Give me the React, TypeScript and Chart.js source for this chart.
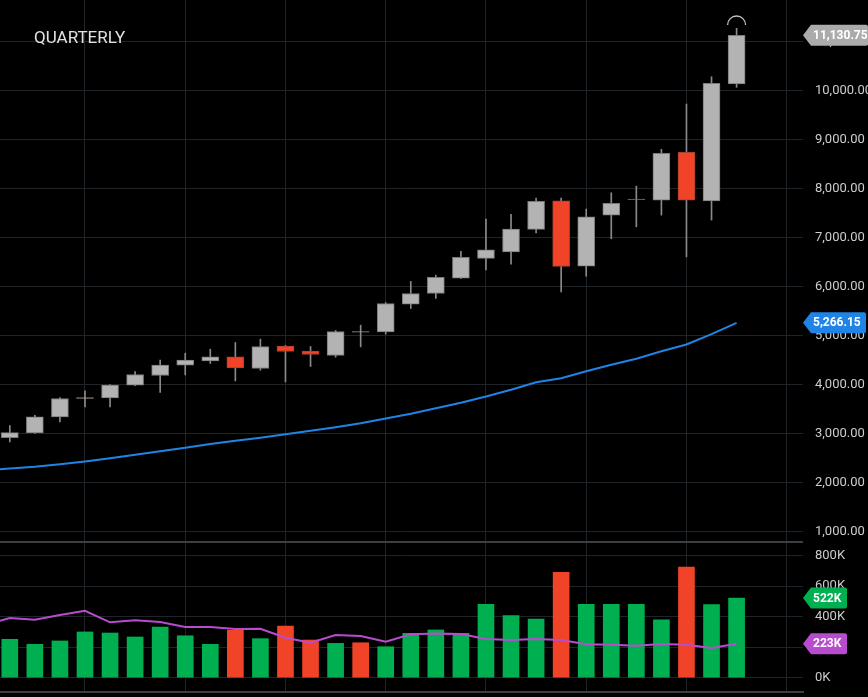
import React, { useEffect, useRef } from "react";
import { Chart, registerables } from "chart.js";

Chart.register(...registerables);

// ---------------- data ----------------
const quarters = [
  "2011 Q2", "2011 Q3", "2011 Q4", "2012 Q1", "2012 Q2", "2012 Q3", "2012 Q4", "2013 Q1",
  "2013 Q2", "2013 Q3", "2013 Q4", "2014 Q1", "2014 Q2", "2014 Q3", "2014 Q4", "2015 Q1",
  "2015 Q2", "2015 Q3", "2015 Q4", "2016 Q1", "2016 Q2", "2016 Q3", "2016 Q4", "2017 Q1",
  "2017 Q2", "2017 Q3", "2017 Q4", "2018 Q1", "2018 Q2", "2018 Q3",
];
const opens = [
  2926, 3020, 3347, 3722, 3735, 3994, 4192, 4402, 4490, 4571,
  4335, 4790, 4688, 4600, 5078, 5082, 5647, 5865, 6178, 6580,
  6714, 7171, 7755, 6420, 7463, 7790, 7770, 8743, 7751, 10137,
];
const highs = [
  3171, 3381, 3740, 3877, 4005, 4273, 4504, 4647, 4729, 4865,
  4933, 4805, 4784, 5110, 5218, 5680, 6110, 6240, 6723, 7382,
  7478, 7810, 7810, 7586, 7918, 8055, 8804, 9729, 10286, 11273,
];
const lows = [
  2837, 3010, 3245, 3551, 3551, 3985, 3845, 4204, 4437, 4082,
  4300, 4061, 4375, 4565, 4776, 5035, 5559, 5763, 6170, 6347,
  6463, 7102, 5898, 6216, 6980, 7224, 7463, 6612, 7361, 10069,
];
const closes = [
  3028, 3347, 3722, 3740, 3994, 4212, 4402, 4504, 4571, 4347,
  4784, 4682, 4620, 5090, 5086, 5661, 5865, 6192, 6600, 6755,
  7178, 7743, 6416, 7429, 7702, 7778, 8722, 7770, 10151, 11130.75,
];
// moving average, first value belongs to the quarter before the first candle
const priceMA = [
  2258, 2294, 2330, 2381, 2437, 2504, 2575, 2647, 2718, 2794, 2861,
  2922, 2994, 3065, 3137, 3218, 3314, 3412, 3524, 3637, 3763,
  3902, 4055, 4137, 4280, 4412, 4535, 4688, 4824, 5035, 5266.15,
];
// volume in thousands
const volumes = [
  252, 219, 241, 300, 293, 267, 332, 275, 219, 311,
  256, 339, 247, 225, 229, 203, 291, 313, 291, 481,
  407, 385, 691, 481, 481, 481, 380, 726, 479, 522,
];
const volumeMA = [
  346, 391, 380, 411, 439, 363, 376, 365, 332, 332, 319,
  321, 262, 229, 280, 273, 236, 285, 289, 287, 254,
  247, 254, 247, 219, 216, 210, 221, 216, 195, 223,
];
const priceTicks = [1000, 2000, 3000, 4000, 5000, 6000, 7000, 8000, 9000, 10000, 11000];
const volumeTicks = [0, 200, 400, 600, 800];
const yearStartIndex = [3, 7, 11, 15, 19, 23, 27, 31];
const titleText = "QUARTERLY";

// ---------------- styles ----------------
const W = 868;
const PRICE_H = 541;
const VOL_H = 156;
const AXIS_W = 65;
const X_MIN = -0.391;
const X_MAX = 31.65;
const P_MIN = 816.4;
const P_MAX = 11850.5;
const V_MIN = -93.8;
const V_MAX = 896.4;

const BG = "#000000";
const GRID = "#1f2428";
const SEP = "#3a3f44";
const LABEL = "#cccccc";
const UP_FILL = "#b3b3b3";
const UP_BORDER = "#7a7a7a";
const DOWN_FILL = "#f04328";
const DOWN_BORDER = "#a8402e";
const WICK = "#8a8a8a";
const GREEN = "#00b050";
const RED = "#f04328";
const BLUE = "#1f84e6";
const MAGENTA = "#b84ccf";
const TAG_GREY = "#ababab";
const FONT = "Roboto, 'Noto Sans', sans-serif";

const fmtPrice = (v: number) =>
  v.toLocaleString("en-US", { minimumFractionDigits: 2, maximumFractionDigits: 2 });

function drawTag(ctx: CanvasRenderingContext2D, y: number, text: string, bg: string, right: number) {
  const left = 803;
  const tip = 8;
  const h = 21;
  ctx.save();
  ctx.beginPath();
  ctx.moveTo(left, y);
  ctx.lineTo(left + tip, y - h / 2);
  ctx.lineTo(right - 2, y - h / 2);
  ctx.quadraticCurveTo(right, y - h / 2, right, y - h / 2 + 2);
  ctx.lineTo(right, y + h / 2 - 2);
  ctx.quadraticCurveTo(right, y + h / 2, right - 2, y + h / 2);
  ctx.lineTo(left + tip, y + h / 2);
  ctx.closePath();
  ctx.fillStyle = bg;
  ctx.fill();
  ctx.fillStyle = "#ffffff";
  ctx.font = `bold 12px ${FONT}`;
  ctx.textBaseline = "middle";
  ctx.textAlign = "left";
  ctx.fillText(text, 813, y + 0.5);
  ctx.restore();
}

const zeroPad = (s: any) => {
  s.paddingTop = 0;
  s.paddingBottom = 0;
  s.paddingLeft = 0;
  s.paddingRight = 0;
};

export default function App() {
  const priceRef = useRef<HTMLCanvasElement | null>(null);
  const volRef = useRef<HTMLCanvasElement | null>(null);

  useEffect(() => {
    document.body.style.margin = "0";
    document.body.style.background = BG;
    const last = closes.length - 1;

    const xScaleBase = (hideHeight: number, border: boolean) => ({
      type: "linear" as const,
      min: X_MIN,
      max: X_MAX,
      offset: false,
      afterBuildTicks: (s: any) => {
        s.ticks = yearStartIndex.map((v) => ({ value: v }));
      },
      afterFit: (s: any) => {
        s.height = hideHeight;
        zeroPad(s);
      },
      grid: { color: GRID, drawTicks: false, lineWidth: 1, offset: false },
      border: border ? { display: true, color: SEP, width: 2 } : { display: false },
      ticks: { display: false, padding: 0 },
    });

    const yScaleBase = (min: number, max: number, ticks: number[], fmt: (v: number) => string) => ({
      type: "linear" as const,
      position: "right" as const,
      min,
      max,
      afterBuildTicks: (s: any) => {
        s.ticks = ticks.map((v) => ({ value: v }));
      },
      afterFit: (s: any) => {
        s.width = AXIS_W;
        zeroPad(s);
      },
      grid: { color: GRID, drawTicks: true, tickLength: 12, tickColor: "rgba(0,0,0,0)" },
      border: { display: false },
      ticks: {
        color: LABEL,
        font: { family: FONT, size: 13 },
        padding: 0,
        callback: (v: any) => fmt(Number(v)),
      },
    });

    const pricePlugin = {
      id: "priceExtras",
      beforeDraw(chart: any) {
        const c = chart.ctx;
        c.save();
        c.fillStyle = BG;
        c.fillRect(0, 0, chart.width, chart.height);
        c.restore();
      },
      afterDraw(chart: any) {
        const ctx = chart.ctx as CanvasRenderingContext2D;
        const xs = chart.scales.x;
        const ys = chart.scales.y;
        // marker arc above last candle
        const mx = xs.getPixelForValue(last);
        const my = ys.getPixelForValue(highs[last]) - 3.3;
        ctx.save();
        ctx.beginPath();
        ctx.arc(mx, my, 9, Math.PI, 2 * Math.PI);
        ctx.strokeStyle = "#c4c4c4";
        ctx.lineWidth = 1.3;
        ctx.stroke();
        ctx.restore();
        drawTag(ctx, ys.getPixelForValue(closes[last]), fmtPrice(closes[last]), TAG_GREY, 868);
        const ma = priceMA[priceMA.length - 1];
        drawTag(ctx, ys.getPixelForValue(ma), fmtPrice(ma), BLUE, 866);
      },
    };

    const priceChart = new Chart(priceRef.current as HTMLCanvasElement, {
      type: "bar",
      data: {
        datasets: [
          {
            type: "line",
            data: priceMA.map((v, i) => ({ x: i - 1, y: v })),
            borderColor: BLUE,
            borderWidth: 2,
            pointRadius: 0,
            tension: 0,
            order: 0,
          } as any,
          {
            type: "bar",
            data: quarters.map((_, i) => ({
              x: i,
              y: [Math.min(opens[i], closes[i]), Math.max(opens[i], closes[i])],
            })),
            backgroundColor: quarters.map((_, i) => (closes[i] >= opens[i] ? UP_FILL : DOWN_FILL)),
            borderColor: quarters.map((_, i) => (closes[i] >= opens[i] ? UP_BORDER : DOWN_BORDER)),
            borderWidth: 1,
            borderSkipped: false,
            barThickness: 17,
            grouped: false,
            order: 1,
          } as any,
          {
            type: "bar",
            data: quarters.map((_, i) => ({ x: i, y: [lows[i], highs[i]] })),
            backgroundColor: WICK,
            borderWidth: 0,
            barThickness: 1,
            grouped: false,
            order: 2,
          } as any,
        ],
      },
      options: {
        animation: false,
        responsive: false,
        maintainAspectRatio: false,
        layout: { padding: 0 },
        events: [],
        plugins: { legend: { display: false }, tooltip: { enabled: false } },
        scales: {
          x: xScaleBase(0, false) as any,
          y: yScaleBase(P_MIN, P_MAX, priceTicks, fmtPrice) as any,
        },
      },
      plugins: [pricePlugin],
    });

    const volPlugin = {
      id: "volExtras",
      beforeDraw(chart: any) {
        const c = chart.ctx;
        c.save();
        c.fillStyle = BG;
        c.fillRect(0, 0, chart.width, chart.height);
        c.restore();
      },
      afterDraw(chart: any) {
        const ctx = chart.ctx as CanvasRenderingContext2D;
        const ys = chart.scales.y;
        ctx.save();
        ctx.fillStyle = SEP;
        ctx.fillRect(0, 0, chart.chartArea.right, 2);
        ctx.restore();
        drawTag(ctx, ys.getPixelForValue(volumes[last]), `${volumes[last]}K`, GREEN, 847);
        const vm = volumeMA[volumeMA.length - 1];
        drawTag(ctx, ys.getPixelForValue(vm), `${vm}K`, MAGENTA, 847);
      },
    };

    const volChart = new Chart(volRef.current as HTMLCanvasElement, {
      type: "bar",
      data: {
        datasets: [
          {
            type: "line",
            data: volumeMA.map((v, i) => ({ x: i - 1, y: v })),
            borderColor: MAGENTA,
            borderWidth: 2,
            pointRadius: 0,
            tension: 0,
            order: 0,
          } as any,
          {
            type: "bar",
            data: quarters.map((_, i) => ({ x: i, y: volumes[i] })),
            backgroundColor: quarters.map((_, i) =>
              i === 0 || closes[i] >= closes[i - 1] ? GREEN : RED
            ),
            borderWidth: 0,
            barThickness: 16,
            base: 0,
            grouped: false,
            order: 1,
          } as any,
        ],
      },
      options: {
        animation: false,
        responsive: false,
        maintainAspectRatio: false,
        layout: { padding: 0 },
        events: [],
        plugins: { legend: { display: false }, tooltip: { enabled: false } },
        scales: {
          x: xScaleBase(VOL_H - 151, true) as any,
          y: yScaleBase(V_MIN, V_MAX, volumeTicks, (v) => `${v}K`) as any,
        },
      },
      plugins: [volPlugin],
    });

    return () => {
      priceChart.destroy();
      volChart.destroy();
    };
  }, []);

  return (
    <div
      style={{
        position: "fixed",
        left: 0,
        top: 0,
        width: W,
        height: PRICE_H + VOL_H,
        background: BG,
        overflow: "hidden",
      }}
    >
      <canvas
        ref={priceRef}
        width={W}
        height={PRICE_H}
        style={{ position: "absolute", left: 0, top: 0 }}
      />
      <canvas
        ref={volRef}
        width={W}
        height={VOL_H}
        style={{ position: "absolute", left: 0, top: PRICE_H }}
      />
      <div
        style={{
          position: "absolute",
          left: 34,
          top: 27,
          color: "#e2e2e2",
          fontFamily: FONT,
          fontSize: 17,
          lineHeight: "normal",
          pointerEvents: "none",
        }}
      >
        {titleText}
      </div>
    </div>
  );
}
